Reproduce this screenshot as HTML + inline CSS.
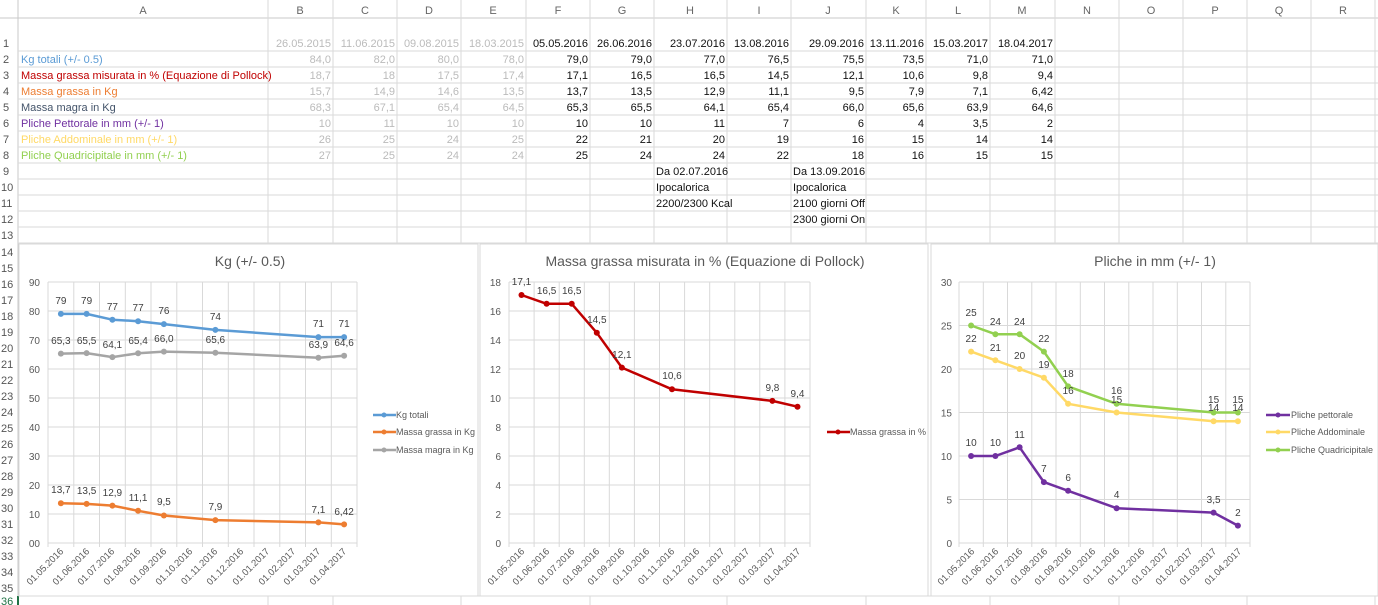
<!DOCTYPE html>
<html><head><meta charset="utf-8"><style>
body{margin:0;width:1378px;height:605px;overflow:hidden;background:#fff;font-family:"Liberation Sans",sans-serif;position:relative}
.t{position:absolute;font-size:11px;white-space:nowrap;line-height:16px}
.r{text-align:right}
svg{position:absolute;left:0;top:0}
</style></head><body>
<svg width="1378" height="605" xmlns="http://www.w3.org/2000/svg" font-family="Liberation Sans, sans-serif">
<!-- header -->
<rect x="0" y="0" width="1378" height="18" fill="#fff"/>
<line x1="0" y1="18" x2="1378" y2="18" stroke="#c8c8c8"/>
<line x1="18" y1="0" x2="18" y2="605" stroke="#c8c8c8"/>
<g stroke="#dadada">
<line x1="268" y1="0" x2="268" y2="244"/><line x1="333" y1="0" x2="333" y2="244"/><line x1="397" y1="0" x2="397" y2="244"/><line x1="461" y1="0" x2="461" y2="244"/><line x1="526" y1="0" x2="526" y2="244"/><line x1="590" y1="0" x2="590" y2="244"/><line x1="654" y1="0" x2="654" y2="244"/><line x1="727" y1="0" x2="727" y2="244"/><line x1="791" y1="0" x2="791" y2="244"/><line x1="866" y1="0" x2="866" y2="244"/><line x1="926" y1="0" x2="926" y2="244"/><line x1="990" y1="0" x2="990" y2="244"/><line x1="1055" y1="0" x2="1055" y2="244"/><line x1="1119" y1="0" x2="1119" y2="244"/><line x1="1183" y1="0" x2="1183" y2="244"/><line x1="1247" y1="0" x2="1247" y2="244"/><line x1="1311" y1="0" x2="1311" y2="244"/><line x1="1375" y1="0" x2="1375" y2="605"/>
<line x1="18" y1="51" x2="1378" y2="51"/><line x1="18" y1="67" x2="1378" y2="67"/><line x1="18" y1="83" x2="1378" y2="83"/><line x1="18" y1="99" x2="1378" y2="99"/><line x1="18" y1="115" x2="1378" y2="115"/><line x1="18" y1="131" x2="1378" y2="131"/><line x1="18" y1="147" x2="1378" y2="147"/><line x1="18" y1="163" x2="1378" y2="163"/><line x1="18" y1="179" x2="1378" y2="179"/><line x1="18" y1="195" x2="1378" y2="195"/><line x1="18" y1="211" x2="1378" y2="211"/><line x1="18" y1="227" x2="1378" y2="227"/><line x1="18" y1="243" x2="1378" y2="243"/>
<line x1="18" y1="596" x2="1378" y2="596"/>
<line x1="268" y1="596" x2="268" y2="605"/><line x1="333" y1="596" x2="333" y2="605"/><line x1="461" y1="596" x2="461" y2="605"/><line x1="590" y1="596" x2="590" y2="605"/><line x1="727" y1="596" x2="727" y2="605"/><line x1="866" y1="596" x2="866" y2="605"/><line x1="990" y1="596" x2="990" y2="605"/><line x1="1119" y1="596" x2="1119" y2="605"/><line x1="1247" y1="596" x2="1247" y2="605"/>
</g>
<line x1="18" y1="596" x2="18" y2="605" stroke="#217346" stroke-width="2"/>
<g font-size="11" fill="#666" text-anchor="middle">
<text x="143" y="14">A</text><text x="300" y="14">B</text><text x="365" y="14">C</text><text x="429" y="14">D</text><text x="493" y="14">E</text><text x="558" y="14">F</text><text x="622" y="14">G</text><text x="690" y="14">H</text><text x="759" y="14">I</text><text x="828" y="14">J</text><text x="896" y="14">K</text><text x="958" y="14">L</text><text x="1022" y="14">M</text><text x="1087" y="14">N</text><text x="1151" y="14">O</text><text x="1215" y="14">P</text><text x="1279" y="14">Q</text><text x="1343" y="14">R</text>
</g>
<g font-size="11" fill="#555">
<text x="3" y="47">1</text><text x="3" y="63">2</text><text x="3" y="79">3</text><text x="3" y="95">4</text><text x="3" y="111">5</text><text x="3" y="127">6</text><text x="3" y="143">7</text><text x="3" y="159">8</text><text x="3" y="175">9</text><text x="1" y="191">10</text><text x="1" y="207">11</text><text x="1" y="223">12</text><text x="1" y="239">13</text>
<text x="1" y="256">14</text><text x="1" y="272">15</text><text x="1" y="288">16</text><text x="1" y="304">17</text><text x="1" y="320">18</text><text x="1" y="336">19</text><text x="1" y="352">20</text><text x="1" y="368">21</text><text x="1" y="384">22</text><text x="1" y="400">23</text><text x="1" y="416">24</text><text x="1" y="432">25</text><text x="1" y="448">26</text><text x="1" y="464">27</text><text x="1" y="480">28</text><text x="1" y="496">29</text><text x="1" y="512">30</text><text x="1" y="528">31</text><text x="1" y="544">32</text><text x="1" y="560">33</text><text x="1" y="576">34</text><text x="1" y="592">35</text><text x="1" y="605" fill="#217346">36</text>
</g>
<!-- labels col A -->
<g font-size="11">
<text x="21" y="63" fill="#5b9bd5">Kg totali (+/- 0.5)</text>
<text x="21" y="79" fill="#c00000">Massa grassa misurata in %  (Equazione di Pollock)</text>
<text x="21" y="95" fill="#ed7d31">Massa grassa in Kg</text>
<text x="21" y="111" fill="#44546a">Massa magra in Kg</text>
<text x="21" y="127" fill="#7030a0">Pliche Pettorale in mm (+/- 1)</text>
<text x="21" y="143" fill="#ffd966">Pliche Addominale in mm (+/- 1)</text>
<text x="21" y="159" fill="#92d050">Pliche Quadricipitale in mm (+/- 1)</text>
</g>
<g font-size="11" fill="#bbb" text-anchor="end">
<text x="331" y="47">26.05.2015</text><text x="395" y="47">11.06.2015</text><text x="459" y="47">09.08.2015</text><text x="524" y="47">18.03.2015</text>
<text x="331" y="63">84,0</text><text x="395" y="63">82,0</text><text x="459" y="63">80,0</text><text x="524" y="63">78,0</text>
<text x="331" y="79">18,7</text><text x="395" y="79">18</text><text x="459" y="79">17,5</text><text x="524" y="79">17,4</text>
<text x="331" y="95">15,7</text><text x="395" y="95">14,9</text><text x="459" y="95">14,6</text><text x="524" y="95">13,5</text>
<text x="331" y="111">68,3</text><text x="395" y="111">67,1</text><text x="459" y="111">65,4</text><text x="524" y="111">64,5</text>
<text x="331" y="127">10</text><text x="395" y="127">11</text><text x="459" y="127">10</text><text x="524" y="127">10</text>
<text x="331" y="143">26</text><text x="395" y="143">25</text><text x="459" y="143">24</text><text x="524" y="143">25</text>
<text x="331" y="159">27</text><text x="395" y="159">25</text><text x="459" y="159">24</text><text x="524" y="159">24</text>
</g>
<g font-size="11" fill="#111" text-anchor="end">
<text x="588" y="47">05.05.2016</text><text x="652" y="47">26.06.2016</text><text x="725" y="47">23.07.2016</text><text x="789" y="47">13.08.2016</text><text x="864" y="47">29.09.2016</text><text x="924" y="47">13.11.2016</text><text x="988" y="47">15.03.2017</text><text x="1053" y="47">18.04.2017</text>
<text x="588" y="63">79,0</text><text x="652" y="63">79,0</text><text x="725" y="63">77,0</text><text x="789" y="63">76,5</text><text x="864" y="63">75,5</text><text x="924" y="63">73,5</text><text x="988" y="63">71,0</text><text x="1053" y="63">71,0</text>
<text x="588" y="79">17,1</text><text x="652" y="79">16,5</text><text x="725" y="79">16,5</text><text x="789" y="79">14,5</text><text x="864" y="79">12,1</text><text x="924" y="79">10,6</text><text x="988" y="79">9,8</text><text x="1053" y="79">9,4</text>
<text x="588" y="95">13,7</text><text x="652" y="95">13,5</text><text x="725" y="95">12,9</text><text x="789" y="95">11,1</text><text x="864" y="95">9,5</text><text x="924" y="95">7,9</text><text x="988" y="95">7,1</text><text x="1053" y="95">6,42</text>
<text x="588" y="111">65,3</text><text x="652" y="111">65,5</text><text x="725" y="111">64,1</text><text x="789" y="111">65,4</text><text x="864" y="111">66,0</text><text x="924" y="111">65,6</text><text x="988" y="111">63,9</text><text x="1053" y="111">64,6</text>
<text x="588" y="127">10</text><text x="652" y="127">10</text><text x="725" y="127">11</text><text x="789" y="127">7</text><text x="864" y="127">6</text><text x="924" y="127">4</text><text x="988" y="127">3,5</text><text x="1053" y="127">2</text>
<text x="588" y="143">22</text><text x="652" y="143">21</text><text x="725" y="143">20</text><text x="789" y="143">19</text><text x="864" y="143">16</text><text x="924" y="143">15</text><text x="988" y="143">14</text><text x="1053" y="143">14</text>
<text x="588" y="159">25</text><text x="652" y="159">24</text><text x="725" y="159">24</text><text x="789" y="159">22</text><text x="864" y="159">18</text><text x="924" y="159">16</text><text x="988" y="159">15</text><text x="1053" y="159">15</text>
</g>
<g font-size="11" fill="#111">
<text x="656" y="175">Da 02.07.2016</text><text x="656" y="191">Ipocalorica</text><text x="656" y="207">2200/2300 Kcal</text>
<text x="793" y="175">Da 13.09.2016</text><text x="793" y="191">Ipocalorica</text><text x="793" y="207">2100 giorni Off</text><text x="793" y="223">2300 giorni On</text>
</g>

<!-- chart frames -->
<rect x="19" y="244" width="459" height="352" fill="#fff" stroke="#d9d9d9"/>
<rect x="480" y="244" width="448" height="352" fill="#fff" stroke="#d9d9d9"/>
<rect x="931" y="244" width="447" height="352" fill="#fff" stroke="#d9d9d9"/>

<!-- CHART 1 -->
<text x="250" y="266" font-size="14" fill="#595959" text-anchor="middle">Kg (+/- 0.5)</text>
<g stroke="#d9d9d9">
<line x1="48" y1="282" x2="357" y2="282"/><line x1="48" y1="311" x2="357" y2="311"/><line x1="48" y1="340" x2="357" y2="340"/><line x1="48" y1="369" x2="357" y2="369"/><line x1="48" y1="398" x2="357" y2="398"/><line x1="48" y1="427" x2="357" y2="427"/><line x1="48" y1="456" x2="357" y2="456"/><line x1="48" y1="485" x2="357" y2="485"/><line x1="48" y1="514" x2="357" y2="514"/><line x1="48" y1="543" x2="357" y2="543"/>
<line x1="48" y1="282" x2="48" y2="547"/><line x1="73.8" y1="282" x2="73.8" y2="547"/><line x1="99.5" y1="282" x2="99.5" y2="547"/><line x1="125.3" y1="282" x2="125.3" y2="547"/><line x1="151" y1="282" x2="151" y2="547"/><line x1="176.8" y1="282" x2="176.8" y2="547"/><line x1="202.5" y1="282" x2="202.5" y2="547"/><line x1="228.3" y1="282" x2="228.3" y2="547"/><line x1="254" y1="282" x2="254" y2="547"/><line x1="279.8" y1="282" x2="279.8" y2="547"/><line x1="305.5" y1="282" x2="305.5" y2="547"/><line x1="331.3" y1="282" x2="331.3" y2="547"/><line x1="357" y1="282" x2="357" y2="547"/>
</g>
<g font-size="10" fill="#595959" text-anchor="end">
<text x="40" y="286">90</text><text x="40" y="315">80</text><text x="40" y="344">70</text><text x="40" y="373">60</text><text x="40" y="402">50</text><text x="40" y="431">40</text><text x="40" y="460">30</text><text x="40" y="489">20</text><text x="40" y="518">10</text><text x="40" y="547">00</text>
</g>
<g font-size="9.5" fill="#595959" text-anchor="end">
<text transform="translate(64,552) rotate(-45)">01.05.2016</text><text transform="translate(90,552) rotate(-45)">01.06.2016</text><text transform="translate(115,552) rotate(-45)">01.07.2016</text><text transform="translate(141,552) rotate(-45)">01.08.2016</text><text transform="translate(167,552) rotate(-45)">01.09.2016</text><text transform="translate(193,552) rotate(-45)">01.10.2016</text><text transform="translate(218,552) rotate(-45)">01.11.2016</text><text transform="translate(244,552) rotate(-45)">01.12.2016</text><text transform="translate(270,552) rotate(-45)">01.01.2017</text><text transform="translate(296,552) rotate(-45)">01.02.2017</text><text transform="translate(321,552) rotate(-45)">01.03.2017</text><text transform="translate(347,552) rotate(-45)">01.04.2017</text>
</g>
<g fill="none" stroke-width="2.5" stroke-linejoin="round">
<polyline stroke="#5b9bd5" points="60.9,313.9 86.6,313.9 112.4,319.7 138.1,321.2 163.9,324.1 215.4,329.9 318.4,337.1 344.1,337.1"/>
<polyline stroke="#a5a5a5" points="60.9,353.6 86.6,353.1 112.4,357.1 138.1,353.3 163.9,351.6 215.4,352.8 318.4,357.7 344.1,355.7"/>
<polyline stroke="#ed7d31" points="60.9,503.3 86.6,503.9 112.4,505.6 138.1,510.8 163.9,515.5 215.4,520.1 318.4,522.4 344.1,524.4"/>
</g>
<g fill="#5b9bd5"><circle cx="60.9" cy="313.9" r="3"/><circle cx="86.6" cy="313.9" r="3"/><circle cx="112.4" cy="319.7" r="3"/><circle cx="138.1" cy="321.2" r="3"/><circle cx="163.9" cy="324.1" r="3"/><circle cx="215.4" cy="329.9" r="3"/><circle cx="318.4" cy="337.1" r="3"/><circle cx="344.1" cy="337.1" r="3"/></g>
<g fill="#a5a5a5"><circle cx="60.9" cy="353.6" r="3"/><circle cx="86.6" cy="353.1" r="3"/><circle cx="112.4" cy="357.1" r="3"/><circle cx="138.1" cy="353.3" r="3"/><circle cx="163.9" cy="351.6" r="3"/><circle cx="215.4" cy="352.8" r="3"/><circle cx="318.4" cy="357.7" r="3"/><circle cx="344.1" cy="355.7" r="3"/></g>
<g fill="#ed7d31"><circle cx="60.9" cy="503.3" r="3"/><circle cx="86.6" cy="503.9" r="3"/><circle cx="112.4" cy="505.6" r="3"/><circle cx="138.1" cy="510.8" r="3"/><circle cx="163.9" cy="515.5" r="3"/><circle cx="215.4" cy="520.1" r="3"/><circle cx="318.4" cy="522.4" r="3"/><circle cx="344.1" cy="524.4" r="3"/></g>
<g font-size="10" fill="#404040" text-anchor="middle">
<text x="60.9" y="304">79</text><text x="86.6" y="304">79</text><text x="112.4" y="310">77</text><text x="138.1" y="311">77</text><text x="163.9" y="314">76</text><text x="215.4" y="320">74</text><text x="318.4" y="327">71</text><text x="344.1" y="327">71</text>
<text x="60.9" y="344">65,3</text><text x="86.6" y="344">65,5</text><text x="112.4" y="348">64,1</text><text x="138.1" y="344">65,4</text><text x="163.9" y="342">66,0</text><text x="215.4" y="343">65,6</text><text x="318.4" y="348">63,9</text><text x="344.1" y="346">64,6</text>
<text x="60.9" y="493">13,7</text><text x="86.6" y="494">13,5</text><text x="112.4" y="496">12,9</text><text x="138.1" y="501">11,1</text><text x="163.9" y="505">9,5</text><text x="215.4" y="510">7,9</text><text x="318.4" y="513">7,1</text><text x="344.1" y="515">6,42</text>
</g>
<g font-size="9" fill="#595959">
<line x1="373" y1="415" x2="396" y2="415" stroke="#5b9bd5" stroke-width="2.5"/><circle cx="384" cy="415" r="2.5" fill="#5b9bd5"/><text x="396" y="418">Kg totali</text>
<line x1="373" y1="432" x2="396" y2="432" stroke="#ed7d31" stroke-width="2.5"/><circle cx="384" cy="432" r="2.5" fill="#ed7d31"/><text x="396" y="435">Massa grassa in Kg</text>
<line x1="373" y1="450" x2="396" y2="450" stroke="#a5a5a5" stroke-width="2.5"/><circle cx="384" cy="450" r="2.5" fill="#a5a5a5"/><text x="396" y="453">Massa magra in Kg</text>
</g>

<!-- CHART 2 -->
<text x="705" y="266" font-size="14" fill="#595959" text-anchor="middle">Massa grassa misurata in % (Equazione di Pollock)</text>
<g stroke="#d9d9d9">
<line x1="509" y1="282" x2="810" y2="282"/><line x1="509" y1="311" x2="810" y2="311"/><line x1="509" y1="340" x2="810" y2="340"/><line x1="509" y1="369" x2="810" y2="369"/><line x1="509" y1="398" x2="810" y2="398"/><line x1="509" y1="427" x2="810" y2="427"/><line x1="509" y1="456" x2="810" y2="456"/><line x1="509" y1="485" x2="810" y2="485"/><line x1="509" y1="514" x2="810" y2="514"/><line x1="509" y1="543" x2="810" y2="543"/>
<line x1="509" y1="282" x2="509" y2="547"/><line x1="534.1" y1="282" x2="534.1" y2="547"/><line x1="559.2" y1="282" x2="559.2" y2="547"/><line x1="584.3" y1="282" x2="584.3" y2="547"/><line x1="609.3" y1="282" x2="609.3" y2="547"/><line x1="634.4" y1="282" x2="634.4" y2="547"/><line x1="659.5" y1="282" x2="659.5" y2="547"/><line x1="684.6" y1="282" x2="684.6" y2="547"/><line x1="709.7" y1="282" x2="709.7" y2="547"/><line x1="734.8" y1="282" x2="734.8" y2="547"/><line x1="759.8" y1="282" x2="759.8" y2="547"/><line x1="784.9" y1="282" x2="784.9" y2="547"/><line x1="810" y1="282" x2="810" y2="547"/>
</g>
<g font-size="10" fill="#595959" text-anchor="end">
<text x="501" y="286">18</text><text x="501" y="315">16</text><text x="501" y="344">14</text><text x="501" y="373">12</text><text x="501" y="402">10</text><text x="501" y="431">8</text><text x="501" y="460">6</text><text x="501" y="489">4</text><text x="501" y="518">2</text><text x="501" y="547">0</text>
</g>
<g font-size="9.5" fill="#595959" text-anchor="end">
<text transform="translate(525,552) rotate(-45)">01.05.2016</text><text transform="translate(550,552) rotate(-45)">01.06.2016</text><text transform="translate(575,552) rotate(-45)">01.07.2016</text><text transform="translate(600,552) rotate(-45)">01.08.2016</text><text transform="translate(625,552) rotate(-45)">01.09.2016</text><text transform="translate(650,552) rotate(-45)">01.10.2016</text><text transform="translate(675,552) rotate(-45)">01.11.2016</text><text transform="translate(700,552) rotate(-45)">01.12.2016</text><text transform="translate(725,552) rotate(-45)">01.01.2017</text><text transform="translate(750,552) rotate(-45)">01.02.2017</text><text transform="translate(776,552) rotate(-45)">01.03.2017</text><text transform="translate(801,552) rotate(-45)">01.04.2017</text>
</g>
<polyline fill="none" stroke="#c00000" stroke-width="2.5" stroke-linejoin="round" points="521.5,295 546.6,303.8 571.7,303.8 596.8,332.8 621.9,367.6 672,389.3 772.4,400.9 797.5,406.7"/>
<g fill="#c00000"><circle cx="521.5" cy="295" r="3"/><circle cx="546.6" cy="303.8" r="3"/><circle cx="571.7" cy="303.8" r="3"/><circle cx="596.8" cy="332.8" r="3"/><circle cx="621.9" cy="367.6" r="3"/><circle cx="672" cy="389.3" r="3"/><circle cx="772.4" cy="400.9" r="3"/><circle cx="797.5" cy="406.7" r="3"/></g>
<g font-size="10" fill="#404040" text-anchor="middle">
<text x="521.5" y="285">17,1</text><text x="546.6" y="294">16,5</text><text x="571.7" y="294">16,5</text><text x="596.8" y="323">14,5</text><text x="621.9" y="358">12,1</text><text x="672" y="379">10,6</text><text x="772.4" y="391">9,8</text><text x="797.5" y="397">9,4</text>
</g>
<g font-size="9" fill="#595959">
<line x1="827" y1="432" x2="850" y2="432" stroke="#c00000" stroke-width="2.5"/><circle cx="838" cy="432" r="2.5" fill="#c00000"/><text x="850" y="435">Massa grassa in %</text>
</g>

<!-- CHART 3 -->
<text x="1155" y="266" font-size="14" fill="#595959" text-anchor="middle">Pliche in mm (+/- 1)</text>
<g stroke="#d9d9d9">
<line x1="959" y1="282" x2="1250" y2="282"/><line x1="959" y1="325.5" x2="1250" y2="325.5"/><line x1="959" y1="369" x2="1250" y2="369"/><line x1="959" y1="412.5" x2="1250" y2="412.5"/><line x1="959" y1="456" x2="1250" y2="456"/><line x1="959" y1="499.5" x2="1250" y2="499.5"/><line x1="959" y1="543" x2="1250" y2="543"/>
<line x1="959" y1="282" x2="959" y2="547"/><line x1="983.3" y1="282" x2="983.3" y2="547"/><line x1="1007.5" y1="282" x2="1007.5" y2="547"/><line x1="1031.8" y1="282" x2="1031.8" y2="547"/><line x1="1056" y1="282" x2="1056" y2="547"/><line x1="1080.3" y1="282" x2="1080.3" y2="547"/><line x1="1104.5" y1="282" x2="1104.5" y2="547"/><line x1="1128.8" y1="282" x2="1128.8" y2="547"/><line x1="1153" y1="282" x2="1153" y2="547"/><line x1="1177.3" y1="282" x2="1177.3" y2="547"/><line x1="1201.5" y1="282" x2="1201.5" y2="547"/><line x1="1225.8" y1="282" x2="1225.8" y2="547"/><line x1="1250" y1="282" x2="1250" y2="547"/>
</g>
<g font-size="10" fill="#595959" text-anchor="end">
<text x="952" y="286">30</text><text x="952" y="329.5">25</text><text x="952" y="373">20</text><text x="952" y="416.5">15</text><text x="952" y="460">10</text><text x="952" y="503.5">5</text><text x="952" y="547">0</text>
</g>
<g font-size="9.5" fill="#595959" text-anchor="end">
<text transform="translate(975,552) rotate(-45)">01.05.2016</text><text transform="translate(999,552) rotate(-45)">01.06.2016</text><text transform="translate(1023,552) rotate(-45)">01.07.2016</text><text transform="translate(1048,552) rotate(-45)">01.08.2016</text><text transform="translate(1072,552) rotate(-45)">01.09.2016</text><text transform="translate(1096,552) rotate(-45)">01.10.2016</text><text transform="translate(1120,552) rotate(-45)">01.11.2016</text><text transform="translate(1145,552) rotate(-45)">01.12.2016</text><text transform="translate(1169,552) rotate(-45)">01.01.2017</text><text transform="translate(1193,552) rotate(-45)">01.02.2017</text><text transform="translate(1217,552) rotate(-45)">01.03.2017</text><text transform="translate(1242,552) rotate(-45)">01.04.2017</text>
</g>
<g fill="none" stroke-width="2.5" stroke-linejoin="round">
<polyline stroke="#ffd966" points="971.1,351.6 995.4,360.3 1019.6,369 1043.9,377.7 1068.1,403.8 1116.6,412.5 1213.6,421.2 1237.9,421.2"/>
<polyline stroke="#92d050" points="971.1,325.5 995.4,334.2 1019.6,334.2 1043.9,351.6 1068.1,386.4 1116.6,403.8 1213.6,412.5 1237.9,412.5"/>
<polyline stroke="#7030a0" points="971.1,456 995.4,456 1019.6,447.3 1043.9,482.1 1068.1,490.8 1116.6,508.2 1213.6,512.6 1237.9,525.6"/>
</g>
<g fill="#ffd966"><circle cx="971.1" cy="351.6" r="3"/><circle cx="995.4" cy="360.3" r="3"/><circle cx="1019.6" cy="369" r="3"/><circle cx="1043.9" cy="377.7" r="3"/><circle cx="1068.1" cy="403.8" r="3"/><circle cx="1116.6" cy="412.5" r="3"/><circle cx="1213.6" cy="421.2" r="3"/><circle cx="1237.9" cy="421.2" r="3"/></g>
<g fill="#92d050"><circle cx="971.1" cy="325.5" r="3"/><circle cx="995.4" cy="334.2" r="3"/><circle cx="1019.6" cy="334.2" r="3"/><circle cx="1043.9" cy="351.6" r="3"/><circle cx="1068.1" cy="386.4" r="3"/><circle cx="1116.6" cy="403.8" r="3"/><circle cx="1213.6" cy="412.5" r="3"/><circle cx="1237.9" cy="412.5" r="3"/></g>
<g fill="#7030a0"><circle cx="971.1" cy="456" r="3"/><circle cx="995.4" cy="456" r="3"/><circle cx="1019.6" cy="447.3" r="3"/><circle cx="1043.9" cy="482.1" r="3"/><circle cx="1068.1" cy="490.8" r="3"/><circle cx="1116.6" cy="508.2" r="3"/><circle cx="1213.6" cy="512.6" r="3"/><circle cx="1237.9" cy="525.6" r="3"/></g>
<g font-size="10" fill="#404040" text-anchor="middle">
<text x="971.1" y="316">25</text><text x="995.4" y="325">24</text><text x="1019.6" y="325">24</text><text x="1043.9" y="342">22</text><text x="1068.1" y="377">18</text><text x="1116.6" y="394">16</text><text x="1213.6" y="403">15</text><text x="1237.9" y="403">15</text>
<text x="971.1" y="342">22</text><text x="995.4" y="351">21</text><text x="1019.6" y="359">20</text><text x="1043.9" y="368">19</text><text x="1068.1" y="394">16</text><text x="1116.6" y="403">15</text><text x="1213.6" y="411">14</text><text x="1237.9" y="411">14</text>
<text x="971.1" y="446">10</text><text x="995.4" y="446">10</text><text x="1019.6" y="438">11</text><text x="1043.9" y="472">7</text><text x="1068.1" y="481">6</text><text x="1116.6" y="498">4</text><text x="1213.6" y="503">3,5</text><text x="1237.9" y="516">2</text>
</g>
<g font-size="9" fill="#595959">
<line x1="1266" y1="415" x2="1290" y2="415" stroke="#7030a0" stroke-width="2.5"/><circle cx="1278" cy="415" r="2.5" fill="#7030a0"/><text x="1291" y="418">Pliche pettorale</text>
<line x1="1266" y1="432" x2="1290" y2="432" stroke="#ffd966" stroke-width="2.5"/><circle cx="1278" cy="432" r="2.5" fill="#ffd966"/><text x="1291" y="435">Pliche Addominale</text>
<line x1="1266" y1="450" x2="1290" y2="450" stroke="#92d050" stroke-width="2.5"/><circle cx="1278" cy="450" r="2.5" fill="#92d050"/><text x="1291" y="453">Pliche Quadricipitale</text>
</g>
</svg>
</body></html>
